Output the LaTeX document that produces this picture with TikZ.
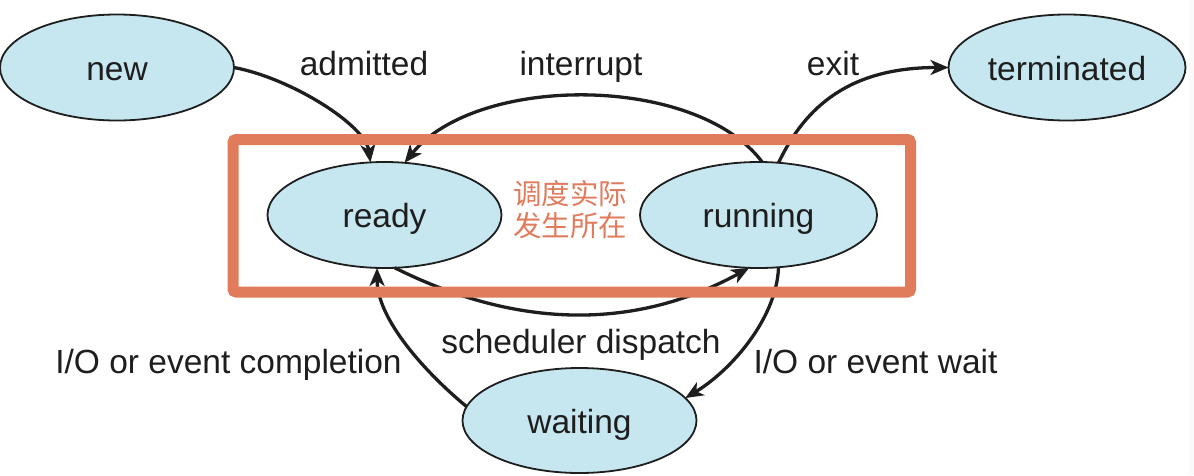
\documentclass[tikz,border=0pt]{standalone}
\usepackage{fontspec}
\setmainfont{Liberation Sans}
\newfontfamily\cjk{Noto Sans CJK SC}
\usetikzlibrary{arrows.meta,shapes.geometric}
\definecolor{stfill}{HTML}{C6E7F0}
\definecolor{hl}{HTML}{E07B5C}
\definecolor{ink}{HTML}{1E1E1E}
\begin{document}
\begin{tikzpicture}[x=1pt,y=-1pt,
  state/.style={ellipse,draw=ink,line width=1.8pt,fill=stfill,
    minimum width=234pt,minimum height=106pt,inner sep=0pt,outer sep=0pt,
    font=\fontsize{33.5}{40}\selectfont,text=ink,text height=25pt,text depth=0pt},
  lbl/.style={font=\fontsize{33.5}{40}\selectfont,text=ink,anchor=base,inner sep=0pt},
  conn/.style={line width=3.3pt,draw=ink,-{Stealth[length=18pt,width=15pt,inset=5pt]}}]
\useasboundingbox (0,0) rectangle (1194,475);
\fill[black!2] (1189,0) rectangle (1194,475);

\node[state] (new) at (117,67.5) {new};
\node[state,minimum width=237pt] (term) at (1067,67.5) {terminated};
\node[state] (ready) at (384.5,215) {ready};
\node[state,minimum width=237pt] (run) at (758.5,215) {running};
\node[state,minimum height=105pt] (wait) at (579.5,420.5) {waiting};

\node[lbl] (ladm) at (364,75) {admitted};
\node[lbl] (lint) at (581,75) {interrupt};
\node[lbl] (lexit) at (833,75) {exit};
\node[lbl] (lsch) at (581,353) {scheduler dispatch};
\node[lbl] (lcomp) at (228.5,373) {I/O or event completion};
\node[lbl] (lwait) at (875.5,373) {I/O or event wait};

\draw[conn] (new.east) .. controls +(58,11) and +(-5,-37) .. (ready.105);
\draw[conn] (run.86) .. controls +(-66,-88) and +(72,-89) .. (ready.69);
\draw[conn] (run.69) .. controls +(27,-57) and +(-98,0) .. (term.west);
\draw[conn] (ready.281) .. controls +(124,62) and +(-113,62) .. (run.260);
\draw[conn] (run.291) .. controls +(-2,52) and +(45,-27) .. (wait.12);
\draw[conn] (wait.173) .. controls +(-40,-33) and +(0,52) .. (ready.262);

\draw[hl,line width=11pt,rounded corners=3pt] (233,139.5) rectangle (910.5,292);
\node[font=\cjk\fontsize{28.5}{32}\selectfont,text=hl,align=center,inner sep=0pt] (note) at (570,210) {调度实际\\发生所在};
\end{tikzpicture}
\end{document}
